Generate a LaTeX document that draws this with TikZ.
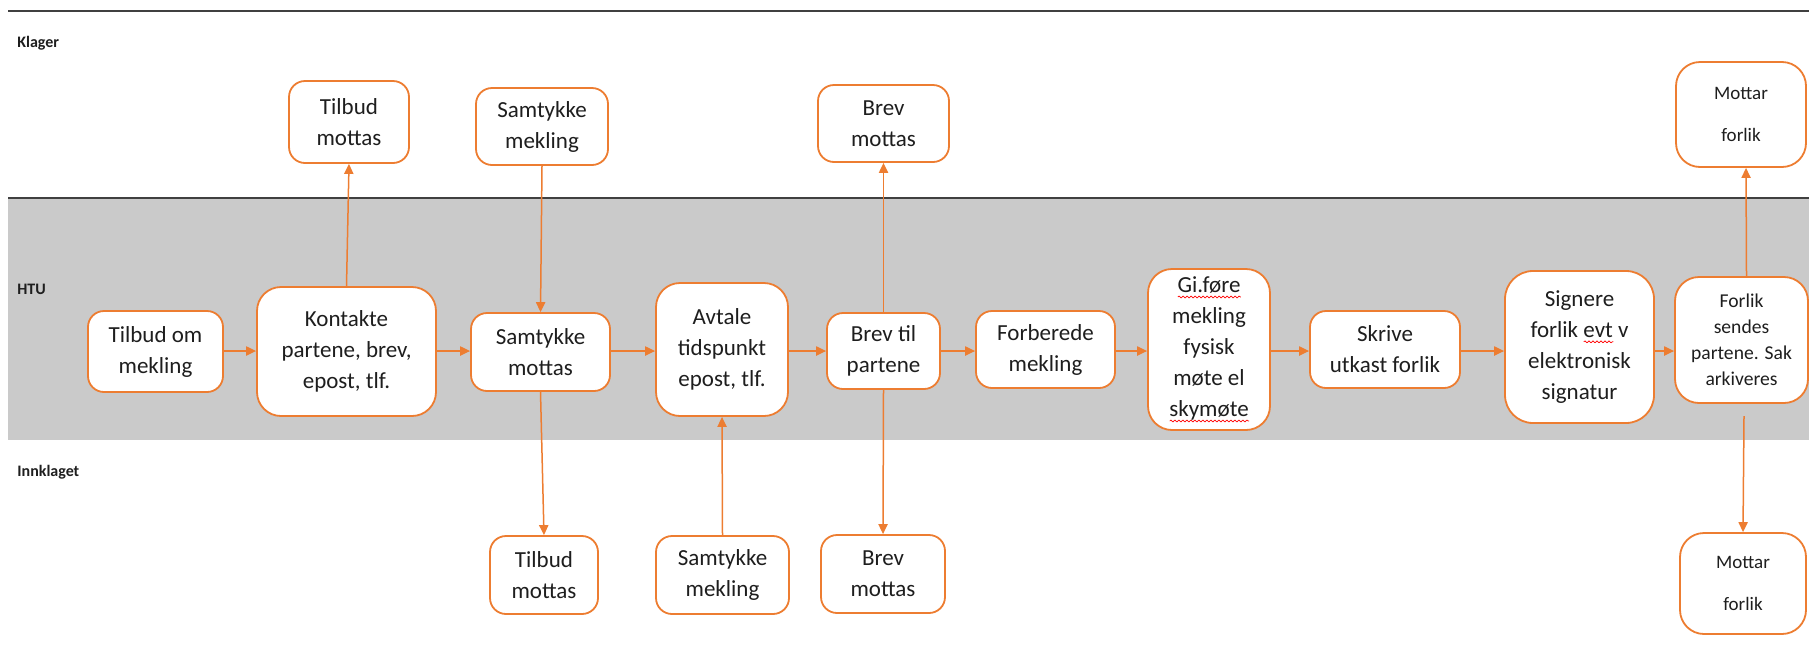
\documentclass[tikz,border=0pt]{standalone}
\usepackage{fontspec}
\setmainfont{Carlito}
\usetikzlibrary{arrows.meta,decorations.pathmorphing}
\definecolor{orgc}{RGB}{237,125,49}
\definecolor{bandc}{RGB}{202,202,202}
\definecolor{linec}{RGB}{64,64,64}
\definecolor{txtc}{RGB}{30,30,30}
\newcommand\squig[1]{\setbox0\hbox{#1}\leavevmode\rlap{\tikz[baseline=0pt,x=1pt,y=1pt]\draw[red,sharp corners,line width=0.35pt,decorate,decoration={snake,amplitude=0.45pt,segment length=2pt}] (0,-2.2) -- (\wd0,-2.2);}\box0\relax}
\tikzset{
  box/.style={draw=orgc, line width=0.9pt, fill=white, rounded corners=8pt, align=center,
    inner sep=0pt, text=txtc, font=\fontsize{11.5}{15.5}\selectfont},
  bigbox/.style={box, rounded corners=12pt},
  smallfont/.style={font=\fontsize{9.8}{13}\selectfont},
  mottfont/.style={font=\fontsize{9.5}{21}\selectfont},
  arr/.style={draw=orgc, line width=0.75pt, -{Triangle[length=5pt,width=4.6pt]}},
  lane/.style={anchor=west, inner sep=0pt, text=txtc, font=\fontsize{8}{9}\selectfont\bfseries},
}
\begin{document}
\begin{tikzpicture}[x=0.5pt,y=-0.5pt]
\useasboundingbox (0,0) rectangle (1809,670);
% lanes
\fill[bandc] (8,198) rectangle (1809,440);
\draw[linec, line width=1pt] (8,11) -- (1809,11);
\draw[linec, line width=1pt] (8,198) -- (1809,198);
\node[lane] (lk) at (17,43) {Klager};
\node[lane] (lh) at (17,289) {HTU};
\node[lane] (li) at (17,472) {Innklaget};
% main row
\node[box, minimum width=67.5pt, minimum height=40.5pt] (t1) at (155.5,351.5) {Tilbud om\\mekling};
\node[bigbox, minimum width=89.5pt, minimum height=64.5pt] (k) at (346.5,351.5) {Kontakte\\partene, brev,\\epost, tlf.};
\node[box, minimum width=69.5pt, minimum height=39pt] (sm) at (540.5,352) {Samtykke\\mottas};
\node[bigbox, minimum width=66pt, minimum height=66.5pt] (av) at (722,349.5) {Avtale\\tidspunkt\\epost, tlf.};
\node[box, minimum width=56.5pt, minimum height=38pt] (bp) at (883.5,351) {Brev til\\partene};
\node[box, minimum width=69.5pt, minimum height=38.5pt] (fm) at (1045.5,349.5) {Forberede\\mekling};
\node[bigbox, minimum width=61pt, minimum height=80.5pt] (gi) at (1209,349.5) {\squig{Gi.føre}\\mekling\\fysisk\\møte el\\\squig{skymøte}};
\node[box, minimum width=75pt, minimum height=38.5pt] (sk) at (1385,349.5) {Skrive\\utkast forlik};
\node[bigbox, rounded corners=14pt, minimum width=74.5pt, minimum height=76pt] (sg) at (1579.5,347) {Signere\\forlik \squig{evt} v\\elektronisk\\signatur};
\node[bigbox, smallfont, minimum width=66.5pt, minimum height=63pt] (fs) at (1741.5,340) {Forlik\\sendes\\partene. Sak\\arkiveres};
% top row
\node[box, minimum width=60pt, minimum height=41pt] (tmT) at (349,122) {Tilbud\\mottas};
\node[box, minimum width=66pt, minimum height=38.5pt] (smT) at (542,126.5) {Samtykke\\mekling};
\node[box, minimum width=65.5pt, minimum height=38.5pt] (bmT) at (883.5,123.5) {Brev\\mottas};
\node[bigbox, mottfont, minimum width=65pt, minimum height=52.5pt] (mfT) at (1741,114.5) {Mottar\\forlik};
% bottom row
\node[box, minimum width=54pt, minimum height=39pt] (tmB) at (544,575) {Tilbud\\mottas};
\node[box, minimum width=66.5pt, minimum height=39pt] (smB) at (722.5,575) {Samtykke\\mekling};
\node[box, minimum width=62pt, minimum height=39pt] (bmB) at (883,574) {Brev\\mottas};
\node[bigbox, mottfont, minimum width=63pt, minimum height=50.5pt] (mfB) at (1743,583.5) {Mottar\\forlik};
% horizontal flow
\coordinate (yl) at (0,351);
\draw[arr] (t1.east |- yl) -- (k.west |- yl);
\draw[arr] (k.east |- yl) -- (sm.west |- yl);
\draw[arr] (sm.east |- yl) -- (av.west |- yl);
\draw[arr] (av.east |- yl) -- (bp.west |- yl);
\draw[arr] (bp.east |- yl) -- (fm.west |- yl);
\draw[arr] (fm.east |- yl) -- (gi.west |- yl);
\draw[arr] (gi.east |- yl) -- (sk.west |- yl);
\draw[arr] (sk.east |- yl) -- (sg.west |- yl);
\draw[arr] (sg.east |- yl) -- (fs.west |- yl);
% vertical
\draw[arr] (k.north) -- (tmT.south);
\draw[arr] (smT.south) -- (sm.north);
\draw[arr] (sm.south) -- (tmB.north);
\draw[arr] (smB.north) -- (av.south);
\draw[arr] (bp.north) -- (bmT.south);
\draw[arr] (bp.south) -- (bmB.north);
\draw[arr] ([xshift=2.5pt]fs.north) -- ([xshift=2.5pt]mfT.south);
\coordinate (fsb) at (1744,416);
\draw[arr] (fsb) -- (mfB.north);
\end{tikzpicture}
\end{document}
